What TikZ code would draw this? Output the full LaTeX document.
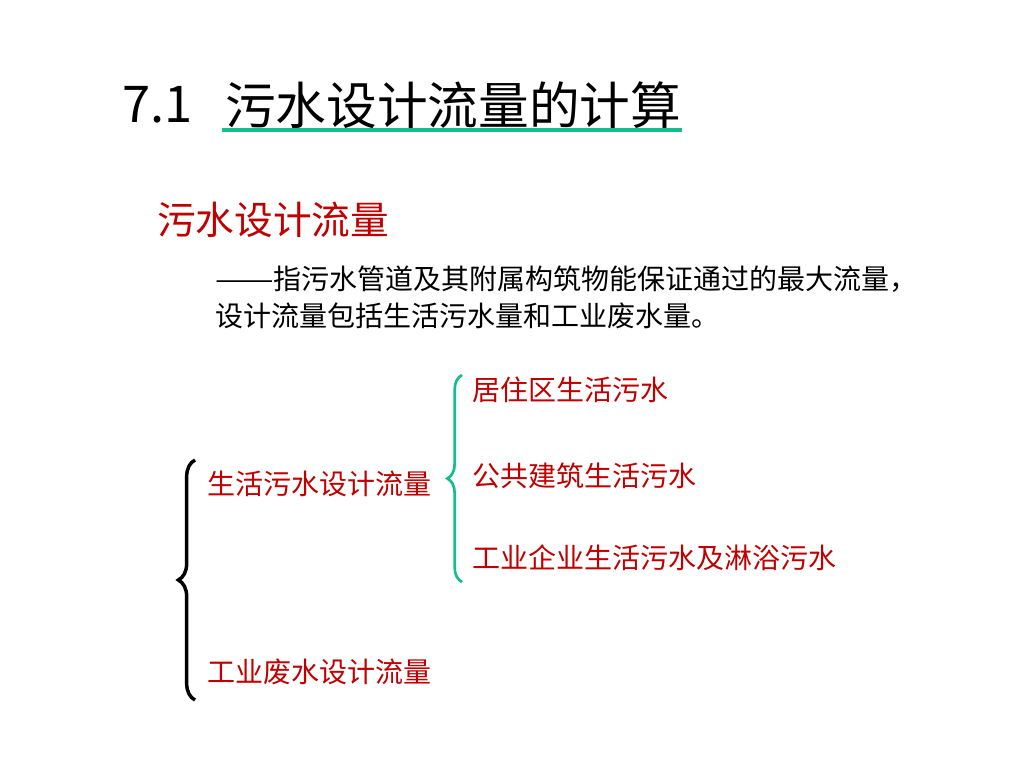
\documentclass[tikz,border=0pt]{standalone}
\usepackage{fontspec}
\setmainfont{Noto Sans CJK SC}
\usetikzlibrary{decorations.pathreplacing}
\usetikzlibrary{positioning}
\usetikzlibrary{calc}

\definecolor{darkred}{RGB}{192,0,0}
\definecolor{tealgreen}{RGB}{20,190,140}

\begin{document}
\begin{tikzpicture}[x=0.75pt, y=-0.75pt,
    every node/.style={inner sep=0pt, anchor=west},
    item/.style={text=darkred, font=\fontsize{21}{24}\selectfont},
    body/.style={text=black, font=\fontsize{21}{24}\selectfont}]

      \useasboundingbox (0,0) rectangle (1024,768);

      % Title with green underline
      \node (num) at (122,105) {\fontsize{38}{44}\selectfont 7.1};
      \node (title) at (225,105) {\fontsize{38}{44}\selectfont 污水设计流量的计算};
      \draw[tealgreen, line width=3pt] ($(title.south west)+(-3,1)$) -- ($(title.south east)+(0,1)$);

      % Definition
      \node[text=darkred, font=\fontsize{29}{32}\selectfont] (sub) at (157,220) {污水设计流量};
      \node[body] (def1) at (215,279) {\scalebox{1.25}[1]{——}指污水管道及其附属构筑物能保证通过的最大流量，};
      \node[body] (def2) at (215,316) {设计流量包括生活污水量和工业废水量。};

      % Left branches
      \node[item] (life) at (207,484) {生活污水设计流量};
      \node[item] (ind) at (207,672) {工业废水设计流量};

      % Right branches
      \node[item] (home) at (472,390) {居住区生活污水};
      \node[item] (pub) at (472,476) {公共建筑生活污水};
      \node[item] (fac) at (472,558) {工业企业生活污水及淋浴污水};

      % Brace ends
      \coordinate (bbot) at (195,700);
      \coordinate (btop) at (195,460);
      \coordinate (gbot) at (462,582);
      \coordinate (gtop) at (462,375);

      % Draw the two braces
      \draw[black, line width=2.6pt, decorate, decoration={brace, amplitude=12.5pt}] (bbot) -- (btop);
      \draw[tealgreen, line width=2pt, decorate, decoration={brace, amplitude=11pt}] (gbot) -- (gtop);
    \end{tikzpicture}
\end{document}
